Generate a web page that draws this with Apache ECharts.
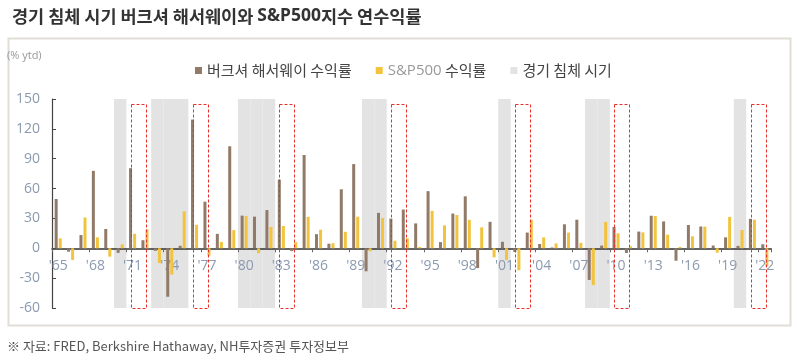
<!DOCTYPE html>
<html>
<head>
<meta charset="utf-8">
<script src="https://cdn.jsdelivr.net/npm/echarts@6/dist/echarts.min.js"></script>
<style>
  html, body { margin: 0; padding: 0; background: #fff; }
  #main { width: 797px; height: 360px; }
</style>
</head>
<body>
<div id="main"></div>
<script>
// 연도 (카테고리)
var years = ['1965','1966','1967','1968','1969','1970','1971','1972','1973','1974',
  '1975','1976','1977','1978','1979','1980','1981','1982','1983','1984',
  '1985','1986','1987','1988','1989','1990','1991','1992','1993','1994',
  '1995','1996','1997','1998','1999','2000','2001','2002','2003','2004',
  '2005','2006','2007','2008','2009','2010','2011','2012','2013','2014',
  '2015','2016','2017','2018','2019','2020','2021','2022'];

// 버크셔 해서웨이 연수익률 (%)
var brk = [49.5, -3.4, 13.3, 77.8, 19.4, -4.6, 80.5, 8.1, -2.5, -48.7,
  2.5, 129.3, 46.8, 14.5, 102.5, 32.8, 31.8, 38.4, 69.0, -2.7,
  93.7, 14.2, 4.6, 59.3, 84.6, -23.1, 35.6, 29.8, 38.9, 25.0,
  57.4, 6.2, 34.9, 52.2, -19.9, 26.6, 6.5, -3.8, 15.8, 4.3,
  0.8, 24.1, 28.7, -31.8, 2.7, 21.4, -4.7, 16.8, 32.7, 27.0,
  -12.5, 23.4, 21.9, 2.8, 11.0, 2.4, 29.6, 4.0];

// S&P500 연수익률 (%)
var sp = [10.0, -11.7, 30.9, 11.0, -8.4, 3.9, 14.6, 18.9, -14.8, -26.4,
  37.2, 23.6, -7.4, 6.4, 18.2, 32.3, -5.0, 21.4, 22.4, 6.1,
  31.6, 18.6, 5.1, 16.6, 31.7, -3.1, 30.5, 7.6, 10.1, 1.3,
  37.6, 23.0, 33.4, 28.6, 21.0, -9.1, -11.9, -22.1, 28.7, 10.9,
  4.9, 15.8, 5.5, -37.0, 26.5, 15.1, 2.1, 16.0, 32.4, 13.7,
  1.4, 12.0, 21.8, -4.4, 31.5, 18.4, 28.7, -18.1];

// 경기 침체 시기
var recessionYears = ['1970','1973','1974','1975','1980','1981','1982',
  '1990','1991','2001','2008','2009','2020'];

// 침체 직후 연도 (빨간 점선 박스)
var afterYears = ['1971','1976','1983','1992','2002','2010','2021'];

var myChart = echarts.init(document.getElementById('main'));

var labelColor = '#8b9ab0';
var fontCJK = '"Noto Sans CJK KR", "Noto Sans", sans-serif';

var option = {
    animation: false,
    title: {
        left: 7,
        top: 2,
        text: '{n|경기 침체 시기 버크셔 해서웨이와 }{b|S&P500}{n|지수 연수익률}',
        textStyle: {
            rich: {
                n: { fontSize: 17.5, color: '#333', fontFamily: fontCJK },
                b: { fontSize: 17.5, color: '#333', fontWeight: 'bold', fontFamily: '"Liberation Sans Narrow", "Noto Sans", sans-serif' }
            }
        }
    },
    legend: {
        left: 190,
        top: 58,
        itemWidth: 7,
        itemHeight: 7,
        itemGap: 24,
        icon: 'rect',
        data: ['버크셔 해서웨이 수익률', 'S&P500 수익률', '경기 침체 시기'],
        formatter: function (name) {
            if (name === 'S&P500 수익률') return '{g|S&P500} 수익률';
            return name;
        },
        textStyle: {
            fontSize: 15,
            color: '#444',
            fontFamily: fontCJK,
            rich: {
                g: { fontSize: 15, color: '#999', fontFamily: '"Open Sans", sans-serif' }
            }
        }
    },
    grid: {
        left: 52,
        right: 26,
        top: 99,
        bottom: 52
    },
    xAxis: {
        type: 'category',
        data: years,
        axisLine: { onZero: true, lineStyle: { color: '#333', width: 1.5 } },
        axisTick: { show: true, length: 4, lineStyle: { color: '#666' } },
        axisLabel: {
            interval: 2,
            margin: -49,
            color: labelColor,
            fontSize: 14,
            fontFamily: '"Open Sans", sans-serif',
            formatter: function (v) { return "'" + v.slice(2); }
        }
    },
    yAxis: {
        type: 'value',
        min: -60,
        max: 150,
        interval: 30,
        axisLine: { show: true, lineStyle: { color: '#444', width: 1.2 } },
        axisTick: { show: true, inside: true, length: 4, lineStyle: { color: '#444' } },
        splitLine: { show: false },
        axisLabel: {
            margin: 12,
            color: labelColor,
            fontSize: 14,
            fontFamily: '"Open Sans", sans-serif'
        }
    },
    graphic: [
        {
            type: 'rect',
            left: 6, top: 36,
            shape: { width: 782, height: 287 },
            style: { fill: 'none', stroke: '#e2ded7', lineWidth: 2 },
            z: -10
        },
        {
            type: 'text',
            left: 7, top: 50,
            style: { text: '(% ytd)', fill: '#999', font: '11px "Open Sans", sans-serif' }
        },
        {
            type: 'text',
            left: 7, top: 340,
            style: {
                text: '※ 자료: FRED, Berkshire Hathaway, NH투자증권 투자정보부',
                fill: '#555',
                font: '13px "Liberation Sans Narrow", "Noto Sans CJK KR", sans-serif'
            }
        }
    ],
    series: [
        {
            name: '경기 침체 시기',
            type: 'custom',
            z: 0,
            itemStyle: { color: '#e3e3e3' },
            data: recessionYears.map(function (y) { return [y]; }),
            encode: { x: 0 },
            renderItem: function (params, api) {
                var top = api.coord([api.value(0), 150]);
                var bot = api.coord([api.value(0), -60]);
                var w = api.size([1, 0])[0];
                return {
                    type: 'rect',
                    shape: { x: top[0] - w / 2, y: top[1], width: w, height: bot[1] - top[1] },
                    style: { fill: '#e3e3e3' }
                };
            }
        },
        {
            name: '버크셔 해서웨이 수익률',
            type: 'bar',
            z: 2,
            barWidth: 3,
            barGap: '35%',
            itemStyle: { color: '#917a68' },
            data: brk
        },
        {
            name: 'S&P500 수익률',
            type: 'bar',
            z: 2,
            barWidth: 3,
            itemStyle: { color: '#f2c33c' },
            data: sp
        },
        {
            name: '침체 직후',
            type: 'custom',
            z: 5,
            clip: false,
            data: afterYears.map(function (y) { return [y]; }),
            encode: { x: 0 },
            renderItem: function (params, api) {
                var top = api.coord([api.value(0), 145]);
                var bot = api.coord([api.value(0), -59.5]);
                var w = api.size([1, 0])[0];
                return {
                    type: 'rect',
                    shape: { x: Math.round(top[0] - w * 0.15) + 0.5, y: Math.round(top[1]) + 0.5, width: Math.round(w * 1.2), height: Math.round(bot[1] - top[1]) },
                    style: { fill: 'none', stroke: '#e8302a', lineWidth: 1, lineDash: [3, 2] }
                };
            }
        }
    ]
};

myChart.setOption(option);
</script>
</body>
</html>
